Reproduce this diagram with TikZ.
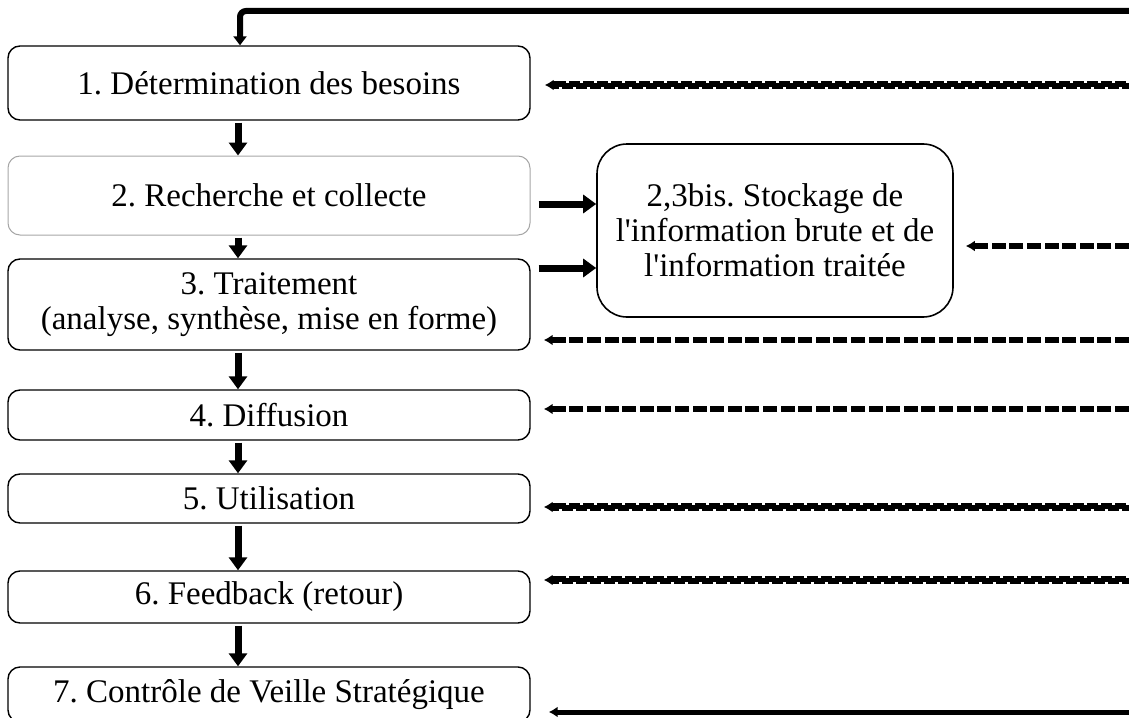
\documentclass[tikz,border=0pt]{standalone}
\usepackage{fontspec}
\setmainfont{Liberation Serif}[Ligatures=TeXOff]
\usetikzlibrary{arrows.meta, positioning}

\begin{document}
\frenchspacing
\begin{tikzpicture}[
      x=0.5pt, y=-0.5pt,
      font=\fontsize{16.5}{17.5}\selectfont,
      stage/.style={draw, line width=0.7pt, rounded corners=6pt,
                    minimum width=261pt, inner sep=0pt, align=center},
      store/.style={draw, line width=0.8pt, rounded corners=15pt,
                    minimum width=178pt, minimum height=86.5pt,
                    inner sep=0pt, align=center},
      flow/.style={line width=3.5pt, -{Triangle[length=6.5pt,width=9pt]}},
      feed/.style={line width=3.4pt, -{Latex[length=4.5pt,width=5.5pt]}},
      dashbar/.style={feed, dash pattern=on 7pt off 1.8pt},
      sqwave/.style={feed, line width=3.8pt,
        postaction={draw, white, -, line width=0.8pt, shorten >=6pt,
                    dash pattern=on 1.5pt off 5.5pt,
                    transform canvas={yshift=1.55pt}},
        postaction={draw, white, -, line width=0.8pt, shorten >=6pt,
                    dash pattern=on 1.5pt off 5.5pt, dash phase=3.5pt,
                    transform canvas={yshift=-1.55pt}}},
    ]
    \useasboundingbox (0,0) rectangle (1129,717);

    % cycle stages, left column (geometry in pixels of the reference)
    \node[stage, minimum height=37pt] (besoins) at (269,83)
      {1. Détermination des besoins};
    \node[stage, minimum height=39.5pt, draw=gray!70, line width=0.5pt] (collecte) at (269,195.5)
      {2. Recherche et collecte};
    \node[stage, minimum height=45.5pt] (traitement) at (269,304.5)
      {3. Traitement\\(analyse, synthèse, mise en forme)};
    \node[stage, minimum height=25pt] (diffusion) at (269,415)
      {4. Diffusion};
    \node[stage, minimum height=24.5pt] (utilisation) at (269,498.5)
      {5. Utilisation};
    \node[stage, minimum height=26pt] (feedback) at (269,597)
      {6. Feedback (retour)};
    \node[stage, minimum height=27.5pt] (controle) at (269,694.5)
      {7. Contrôle de Veille Stratégique};

    % storage box
    \node[store] (stockage) at (775,230.5)
      {2,3bis. Stockage de\\l'information brute et de\\l'information traitée};

    % vertical flow
    \draw[flow] ([xshift=-15.5pt,yshift=-1pt]besoins.south) -- ([xshift=-15.5pt]collecte.north);
    \draw[flow] ([xshift=-15.5pt,yshift=-1pt]collecte.south) -- ([xshift=-15.5pt]traitement.north);
    \draw[flow] ([xshift=-15.5pt,yshift=-1pt]traitement.south) -- ([xshift=-15.5pt]diffusion.north);
    \draw[flow] ([xshift=-15.5pt,yshift=-1pt]diffusion.south) -- ([xshift=-15.5pt]utilisation.north);
    \draw[flow] ([xshift=-15.5pt,yshift=-1pt]utilisation.south) -- ([xshift=-15.5pt]feedback.north);
    \draw[flow] ([xshift=-15.5pt,yshift=-1pt]feedback.south) -- ([xshift=-15.5pt]controle.north);

    % into storage
    \coordinate (c2s) at ([xshift=4pt,yshift=-4.25pt]collecte.east);
    \coordinate (c3s) at ([xshift=4pt,yshift=18.25pt]traitement.east);
    \draw[flow] (c2s) -- (c2s -| stockage.west);
    \draw[flow] (c3s) -- (c3s -| stockage.west);

    % loop back to the first stage
    \coordinate (rtop) at (1129,11);
    \draw[line width=3pt, rounded corners=3pt, -{Triangle[length=4.5pt,width=6.5pt]}]
      (rtop) -| ([xshift=-14.5pt]besoins.north);

    % feedback lines coming from the right
    \coordinate (r1) at (1129,85);
    \coordinate (rs) at (1129,246);
    \coordinate (r3) at (1129,340);
    \coordinate (r4) at (1129,409);
    \coordinate (r5) at (1129,507);
    \coordinate (r6) at (1129,580);
    \coordinate (r7) at (1129,712);
    \draw[sqwave] (r1) -- ([xshift=7pt]besoins.east |- r1);
    \draw[dashbar] (rs) -- ([xshift=6pt]stockage.east |- rs);
    \draw[dashbar] (r3) -- ([xshift=6.5pt]traitement.east |- r3);
    \draw[dashbar] (r4) -- ([xshift=6.5pt]diffusion.east |- r4);
    \draw[sqwave] (r5) -- ([xshift=6.5pt]utilisation.east |- r5);
    \draw[sqwave] (r6) -- ([xshift=6.5pt]feedback.east |- r6);
    \draw[feed, line width=2.5pt] (r7) -- ([xshift=9pt]controle.east |- r7);
  \end{tikzpicture}
\end{document}
